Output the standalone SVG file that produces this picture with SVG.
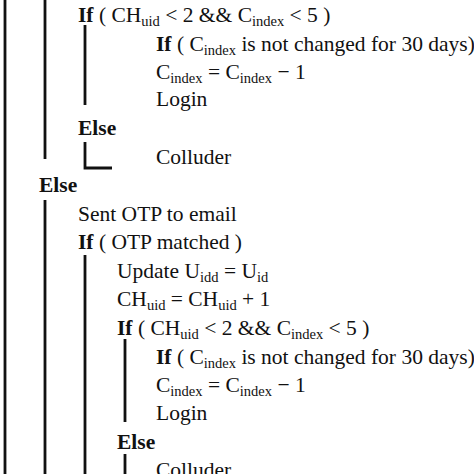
<svg xmlns="http://www.w3.org/2000/svg" width="474" height="474" viewBox="0 0 474 474">
<style>
text{font-family:"Liberation Serif","Times New Roman",serif;font-size:21.5px;fill:#111}
.b{font-weight:bold}
.s{font-size:14.5px}
.ln{stroke:#111;stroke-width:2.8;fill:none}
</style>
<rect width="474" height="474" fill="#fff"/>
<g id="connectors">
<line class="ln" x1="5" y1="0" x2="5" y2="474"/>
<line class="ln" x1="45" y1="0" x2="45" y2="159"/>
<line class="ln" x1="85" y1="25" x2="85" y2="105"/>
<polyline class="ln" points="85,142 85,168 112,168"/>
<line class="ln" x1="45" y1="200" x2="45" y2="474"/>
<line class="ln" x1="85" y1="255" x2="85" y2="474"/>
<line class="ln" x1="125" y1="339" x2="125" y2="422"/>
<line class="ln" x1="125" y1="454" x2="125" y2="474"/>
</g>
<g id="n1"><text x="78" y="22"><tspan class="b">If</tspan> ( CH<tspan class="s" dy="4">uid</tspan><tspan dy="-4"> &lt; 2 &amp;&amp; C</tspan><tspan class="s" dy="4">index</tspan><tspan dy="-4"> &lt; 5 )</tspan></text></g>
<g id="n2"><text x="156" y="50.5"><tspan class="b">If</tspan> ( C<tspan class="s" dy="4">index</tspan><tspan dy="-4"> is not changed for 30 days)</tspan></text></g>
<g id="n3"><text x="156" y="79">C<tspan class="s" dy="4">index</tspan><tspan dy="-4"> = C</tspan><tspan class="s" dy="4">index</tspan><tspan dy="-4"> − 1</tspan></text></g>
<g id="n4"><text x="156" y="106">Login</text></g>
<g id="n5"><text x="78" y="135" class="b">Else</text></g>
<g id="n6"><text x="156" y="164">Colluder</text></g>
<g id="n7"><text x="39" y="192" class="b">Else</text></g>
<g id="n8"><text x="78" y="221">Sent OTP to email</text></g>
<g id="n9"><text x="78" y="249"><tspan class="b">If</tspan> ( OTP matched )</text></g>
<g id="n10"><text x="117" y="278">Update U<tspan class="s" dy="4">idd</tspan><tspan dy="-4"> = U</tspan><tspan class="s" dy="4">id</tspan></text></g>
<g id="n11"><text x="117" y="306">CH<tspan class="s" dy="4">uid</tspan><tspan dy="-4"> = CH</tspan><tspan class="s" dy="4">uid</tspan><tspan dy="-4"> + 1</tspan></text></g>
<g id="n12"><text x="117" y="335"><tspan class="b">If</tspan> ( CH<tspan class="s" dy="4">uid</tspan><tspan dy="-4"> &lt; 2 &amp;&amp; C</tspan><tspan class="s" dy="4">index</tspan><tspan dy="-4"> &lt; 5 )</tspan></text></g>
<g id="n13"><text x="156" y="364"><tspan class="b">If</tspan> ( C<tspan class="s" dy="4">index</tspan><tspan dy="-4"> is not changed for 30 days)</tspan></text></g>
<g id="n14"><text x="156" y="392">C<tspan class="s" dy="4">index</tspan><tspan dy="-4"> = C</tspan><tspan class="s" dy="4">index</tspan><tspan dy="-4"> − 1</tspan></text></g>
<g id="n15"><text x="156" y="420">Login</text></g>
<g id="n16"><text x="117" y="449" class="b">Else</text></g>
<g id="n17"><text x="156" y="477">Colluder</text></g>
</svg>
